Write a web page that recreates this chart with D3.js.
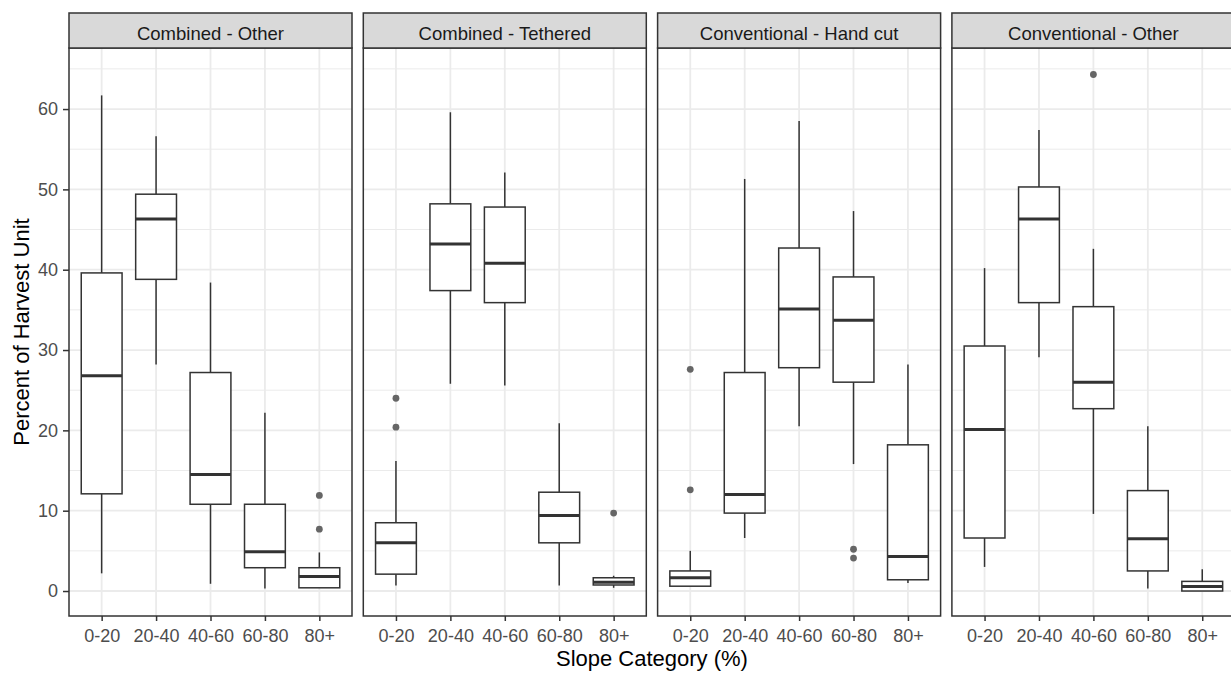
<!DOCTYPE html>
<html>
<head>
<meta charset="utf-8">
<script src="https://cdn.jsdelivr.net/npm/d3@7"></script>
<style>
  body { margin: 0; background: #fff; }
  svg { display: block; font-family: "Liberation Sans", Arial, sans-serif; }
</style>
</head>
<body>
<svg id="chart" width="1231" height="673"></svg>
<script>
// facets and categories
const facets = ["Combined - Other", "Combined - Tethered", "Conventional - Hand cut", "Conventional - Other"];
const slopeCats = ["0-20", "20-40", "40-60", "60-80", "80+"];
const yTicks = [0, 10, 20, 30, 40, 50, 60];
const yMinor = [5, 15, 25, 35, 45, 55, 65];

// box stats, one row per facet, one value per slope category
const whiskerLow = [
  [2.2, 28.2, 0.9, 0.3, 0.4],
  [0.7, 25.8, 25.6, 0.7, 0.4],
  [0.6, 6.6, 20.5, 15.8, 1.0],
  [3.0, 29.1, 9.6, 0.3, 0.0]
];
const q1 = [
  [12.1, 38.8, 10.8, 2.9, 0.4],
  [2.1, 37.4, 35.9, 6.0, 0.75],
  [0.6, 9.7, 27.8, 26.0, 1.4],
  [6.6, 35.9, 22.7, 2.5, 0.0]
];
const medians = [
  [26.8, 46.3, 14.5, 4.9, 1.8],
  [6.0, 43.2, 40.8, 9.4, 1.1],
  [1.65, 12.0, 35.1, 33.7, 4.3],
  [20.1, 46.3, 26.0, 6.5, 0.55]
];
const q3 = [
  [39.6, 49.4, 27.2, 10.8, 2.9],
  [8.5, 48.2, 47.8, 12.3, 1.65],
  [2.5, 27.2, 42.7, 39.1, 18.2],
  [30.5, 50.3, 35.4, 12.5, 1.2]
];
const whiskerHigh = [
  [61.7, 56.6, 38.4, 22.2, 4.8],
  [16.2, 59.6, 52.1, 20.9, 1.9],
  [5.0, 51.3, 58.5, 47.3, 28.2],
  [40.2, 57.4, 42.6, 20.5, 2.7]
];
const outliers = [
  [[], [], [], [], [11.9, 7.7]],
  [[24.0, 20.4], [], [], [], [9.7]],
  [[27.6, 12.6], [], [], [5.2, 4.1], []],
  [[], [], [64.3], [], []]
];

const svg = d3.select("#chart");
const dark = "#333333";

const panelW = 283, gap = 11.3;
const panelLeft = 69;
const stripTop = 13, stripH = 35;
const plotTop = stripTop + stripH, plotBottom = 616;

const y = d3.scaleLinear().domain([-3.11, 67.6]).range([plotBottom, plotTop]);

facets.forEach((name, f) => {
  const x0 = panelLeft + f * (panelW + gap);
  const x = d3.scalePoint().domain(slopeCats).range([0, panelW]).padding(0.6);
  const bw = x.step() * 0.75;

  const g = svg.append("g").attr("transform", `translate(${x0},0)`);

  // background grid
  g.selectAll(".minor").data(yMinor).join("line")
    .attr("x1", 0).attr("x2", panelW)
    .attr("y1", d => y(d)).attr("y2", d => y(d))
    .attr("stroke", "#EBEBEB").attr("stroke-width", 1);
  g.selectAll(".major").data(yTicks).join("line")
    .attr("x1", 0).attr("x2", panelW)
    .attr("y1", d => y(d)).attr("y2", d => y(d))
    .attr("stroke", "#EBEBEB").attr("stroke-width", 1.8);
  g.selectAll(".vmajor").data(slopeCats).join("line")
    .attr("x1", d => x(d)).attr("x2", d => x(d))
    .attr("y1", plotTop).attr("y2", plotBottom)
    .attr("stroke", "#EBEBEB").attr("stroke-width", 1.8);

  // boxes
  slopeCats.forEach((c, i) => {
    const cx = x(c);
    g.append("line")
      .attr("x1", cx).attr("x2", cx)
      .attr("y1", y(whiskerHigh[f][i])).attr("y2", y(q3[f][i]))
      .attr("stroke", dark).attr("stroke-width", 1.5);
    g.append("line")
      .attr("x1", cx).attr("x2", cx)
      .attr("y1", y(q1[f][i])).attr("y2", y(whiskerLow[f][i]))
      .attr("stroke", dark).attr("stroke-width", 1.5);
    g.append("rect")
      .attr("x", cx - bw / 2).attr("width", bw)
      .attr("y", y(q3[f][i])).attr("height", Math.max(y(q1[f][i]) - y(q3[f][i]), 0.5))
      .attr("fill", "#fff").attr("stroke", dark).attr("stroke-width", 1.5);
    g.append("line")
      .attr("x1", cx - bw / 2).attr("x2", cx + bw / 2)
      .attr("y1", y(medians[f][i])).attr("y2", y(medians[f][i]))
      .attr("stroke", dark).attr("stroke-width", 3);
    g.selectAll(null).data(outliers[f][i]).join("circle")
      .attr("cx", cx).attr("cy", d => y(d)).attr("r", 3.4)
      .attr("fill", "#666666");
  });

  // panel border
  g.append("rect")
    .attr("x", 0).attr("y", plotTop).attr("width", panelW).attr("height", plotBottom - plotTop)
    .attr("fill", "none").attr("stroke", dark).attr("stroke-width", 1.5);

  // strip
  g.append("rect")
    .attr("x", 0).attr("y", stripTop).attr("width", panelW).attr("height", stripH)
    .attr("fill", "#D9D9D9").attr("stroke", dark).attr("stroke-width", 1.5);
  g.append("text")
    .attr("x", panelW / 2).attr("y", stripTop + 27)
    .attr("text-anchor", "middle").attr("font-size", 18.5).attr("fill", "#1A1A1A")
    .text(name);

  // x axis
  const xAxis = g.append("g").attr("transform", `translate(0,${plotBottom})`)
    .call(d3.axisBottom(x).tickSize(5).tickPadding(8));
  xAxis.select(".domain").remove();
  xAxis.selectAll("line").attr("stroke", dark).attr("stroke-width", 1.5);
  xAxis.selectAll("text").attr("font-size", 18).attr("fill", "#4D4D4D")
    .attr("font-family", "Liberation Sans, Arial, sans-serif");

  if (f === 0) {
    const yAxis = g.append("g")
      .call(d3.axisLeft(y).tickValues(yTicks).tickSize(6).tickPadding(5));
    yAxis.select(".domain").remove();
    yAxis.selectAll("line").attr("stroke", dark).attr("stroke-width", 1.5);
    yAxis.selectAll("text").attr("font-size", 18).attr("fill", "#4D4D4D")
      .attr("font-family", "Liberation Sans, Arial, sans-serif");
  }
});

// axis titles
const plotRight = panelLeft + 4 * panelW + 3 * gap;
svg.append("text")
  .attr("x", (panelLeft + plotRight) / 2).attr("y", 666)
  .attr("text-anchor", "middle").attr("font-size", 22).attr("fill", "#000")
  .text("Slope Category (%)");
svg.append("text")
  .attr("transform", `translate(29,${(plotTop + plotBottom) / 2}) rotate(-90)`)
  .attr("text-anchor", "middle").attr("font-size", 22).attr("fill", "#000")
  .text("Percent of Harvest Unit");
</script>
</body>
</html>
